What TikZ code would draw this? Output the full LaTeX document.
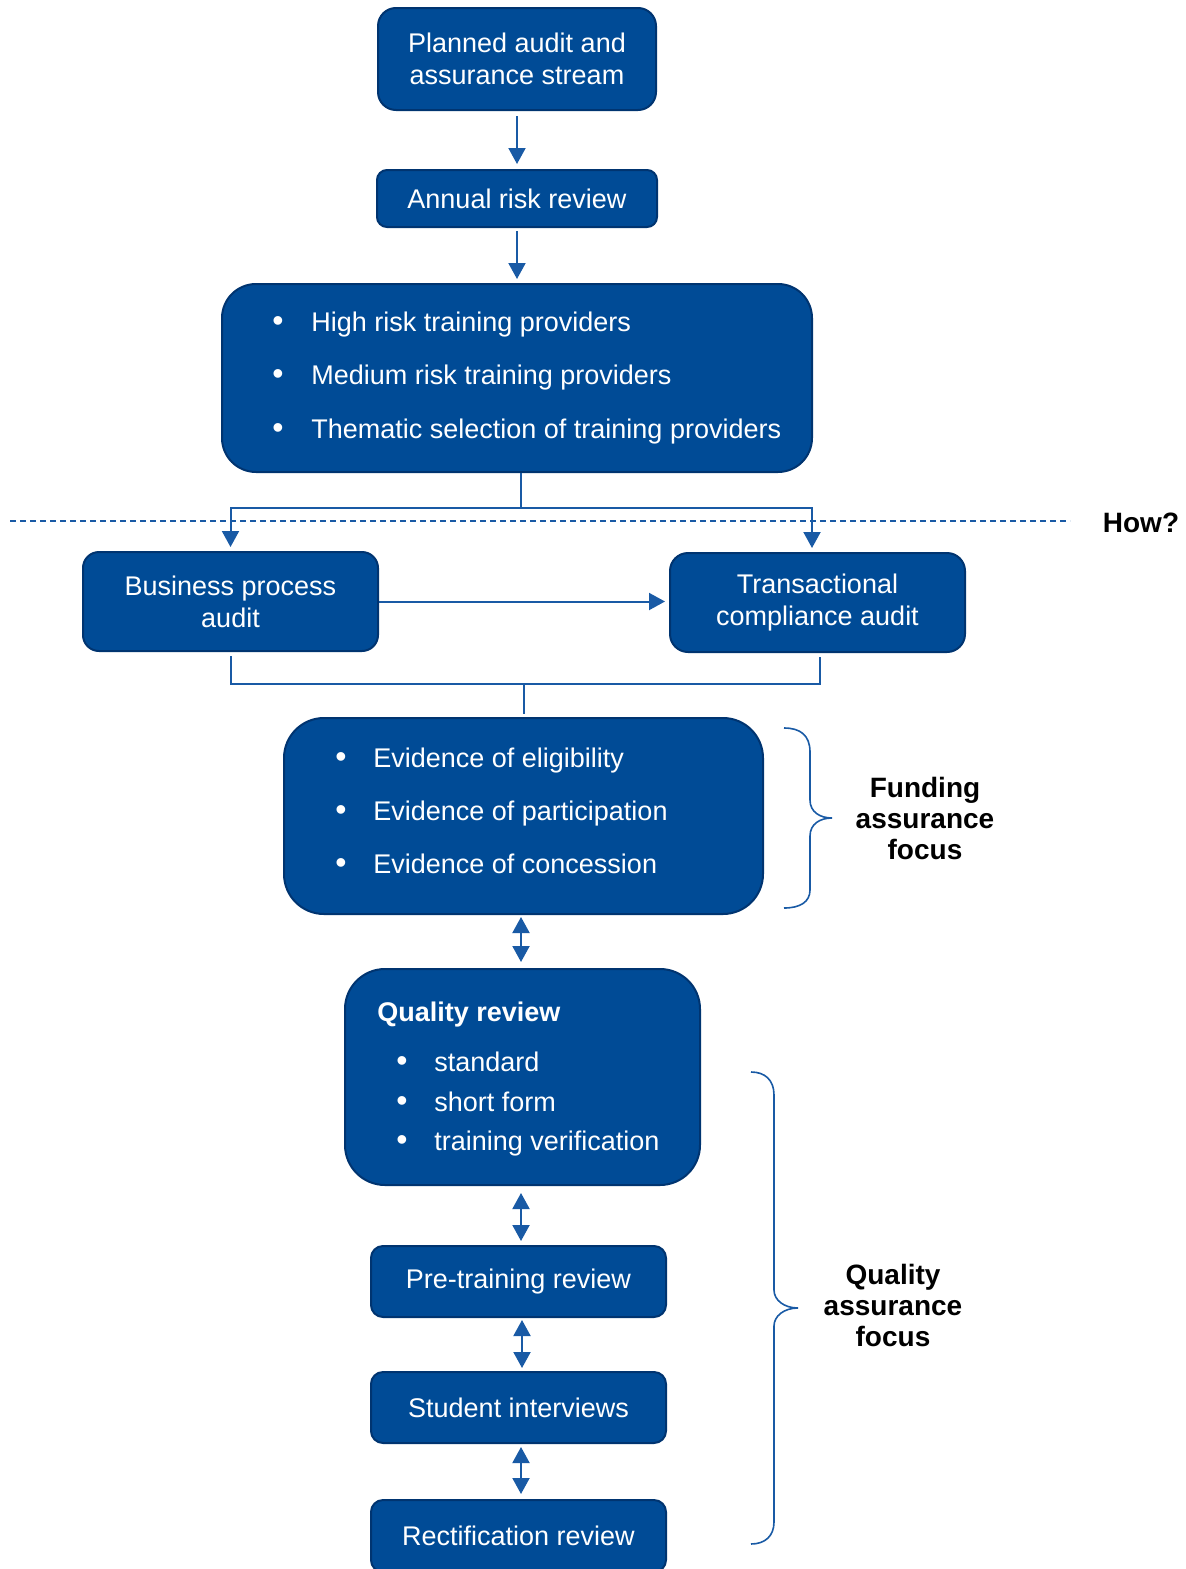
\documentclass[tikz,border=0pt]{standalone}
\usepackage{fontspec}
\setmainfont{Liberation Sans}
\usetikzlibrary{arrows.meta}
\definecolor{boxfill}{RGB}{0,75,150}
\definecolor{boxline}{RGB}{0,52,112}
\definecolor{conn}{RGB}{25,90,165}
\begin{document}
\begin{tikzpicture}[x=0.5pt,y=-0.5pt,
  box/.style={draw=boxline, line width=1pt, fill=boxfill, text=white,
    font=\fontsize{13.5}{16}\selectfont, align=center, inner sep=0pt},
  txt/.style={text=white, font=\fontsize{13.5}{16}\selectfont, inner sep=0pt},
  bul/.style={text=white, font=\fontsize{16}{16}\selectfont, inner sep=0pt, anchor=base},
  ln/.style={draw=conn, line width=1pt},
  arr/.style={ln, -{Triangle[width=8.5pt,length=8pt]}},
  darr/.style={ln, {Triangle[width=8.5pt,length=8pt]}-{Triangle[width=8.5pt,length=8pt]}},
  lbl/.style={font=\bfseries\fontsize{14}{15.5}\selectfont, align=center, inner sep=0pt},
  bracepath/.style={draw=conn, line width=0.8pt}]
\useasboundingbox (0,0) rectangle (1186,1569);
\clip (0,0) rectangle (1186,1569);

% boxes
\node[box, rounded corners=9pt, minimum width=139pt, minimum height=51pt] (plan) at (517,59) {Planned audit and\\assurance stream};
\node[box, rounded corners=5pt, minimum width=140pt, minimum height=28.5pt] (annual) at (517,198.5) {Annual risk review};
\node[box, rounded corners=17pt, minimum width=295pt, minimum height=94pt] (big) at (517,378) {};
\node[box, rounded corners=8pt, minimum width=147.5pt, minimum height=49.5pt] (bpa) at (230.5,601.5) {Business process\\audit};
\node[box, rounded corners=9pt, minimum width=147.5pt, minimum height=49.5pt] (tca) at (817.5,602.5) {Transactional\\compliance audit};
\node[box, rounded corners=20pt, minimum width=239.5pt, minimum height=98pt] (evi) at (523.5,816) {};
\node[box, rounded corners=20pt, minimum width=177.5pt, minimum height=108pt] (qr) at (522.5,1077) {};
\node[box, rounded corners=6pt, minimum width=147.5pt, minimum height=35.5pt] (pre) at (518.5,1281.5) {Pre-training review};
\node[box, rounded corners=6pt, minimum width=147.5pt, minimum height=35.5pt] (stu) at (518.5,1407.5) {Student interviews};
\node[box, rounded corners=6pt, minimum width=147.5pt, minimum height=36pt] (rect) at (518.5,1536) {Rectification review};

% bullet texts: big box
\node[bul] (b1) at (278,331) {\textbullet};
\node[txt, anchor=base west] (t1) at (311,331) {High risk training providers};
\node[bul] (b2) at (278,384) {\textbullet};
\node[txt, anchor=base west] (t2) at (311,384) {Medium risk training providers};
\node[bul] (b3) at (278,438) {\textbullet};
\node[txt, anchor=base west] (t3) at (311,438) {Thematic selection of training providers};

% evidence box
\node[bul] (e1b) at (341,767) {\textbullet};
\node[txt, anchor=base west] (e1) at (373,767) {Evidence of eligibility};
\node[bul] (e2b) at (341,820) {\textbullet};
\node[txt, anchor=base west] (e2) at (373,820) {Evidence of participation};
\node[bul] (e3b) at (341,873) {\textbullet};
\node[txt, anchor=base west] (e3) at (373,873) {Evidence of concession};

% quality review box
\node[txt, anchor=base west, font=\bfseries\fontsize{13.5}{16}\selectfont] (qt) at (377,1021) {Quality review};
\node[bul] (q1b) at (402,1071) {\textbullet};
\node[txt, anchor=base west] (q1) at (434,1071) {standard};
\node[bul] (q2b) at (402,1111) {\textbullet};
\node[txt, anchor=base west] (q2) at (434,1111) {short form};
\node[bul] (q3b) at (402,1150) {\textbullet};
\node[txt, anchor=base west] (q3) at (434,1150) {training verification};

% labels
\node[lbl] (how) at (1141,523) {How?};
\node[lbl] (fund) at (925,818) {Funding\\assurance\\focus};
\node[lbl] (qaf) at (893,1305) {Quality\\assurance\\focus};

% dashed separator
\draw[draw=conn, line width=0.7pt, dash pattern=on 3pt off 2pt] (10,521) -- (1070,521);

% connectors
\draw[arr, shorten <=2.5pt, shorten >=2.5pt] (plan.south) -- (annual.north);
\draw[arr, shorten <=1.5pt, shorten >=2pt] (annual.south) -- (big.north);

\coordinate (split) at (521,508);
\draw[ln] (big.south -| split) -- (split);
\draw[arr, shorten >=2pt] (split) -| (bpa.north);
\draw[arr, shorten >=2pt] (split) -| ([xshift=-2.75pt]tca.north);

\draw[arr, shorten >=2pt] (bpa.east) -- (tca.west |- bpa.east);

\coordinate (join) at (524,684);
\draw[ln, shorten <=2pt] (bpa.south) |- (join);
\draw[ln, shorten <=2pt] ([xshift=1.25pt]tca.south) |- (join);
\draw[ln, shorten >=1.5pt] (join) -- (join |- evi.north);

\draw[darr, shorten <=1pt, shorten >=3pt] (evi.south -| 521,0) -- (qr.north -| 521,0);
\draw[darr, shorten <=3.5pt, shorten >=2pt] (qr.south -| 521,0) -- (pre.north -| 521,0);
\draw[darr, shorten <=1pt, shorten >=1.5pt] (pre.south -| 522,0) -- (stu.north -| 522,0);
\draw[darr, shorten <=1.5pt, shorten >=2.5pt] (stu.south -| 521,0) -- (rect.north -| 521,0);

% braces
\draw[bracepath] (784,728) .. controls (800,728) and (810,735) .. (810,752) -- (810,800)
  .. controls (810,812) and (820,818) .. (832,818)
  .. controls (820,818) and (810,824) .. (810,836) -- (810,890)
  .. controls (810,902) and (800,908) .. (784,908);
\draw[bracepath] (751,1072) .. controls (765,1072) and (774,1080) .. (774,1095) -- (774,1290)
  .. controls (774,1300) and (784,1308) .. (798,1308)
  .. controls (784,1308) and (774,1316) .. (774,1326) -- (774,1522)
  .. controls (774,1536) and (765,1544) .. (751,1544);
\end{tikzpicture}
\end{document}
